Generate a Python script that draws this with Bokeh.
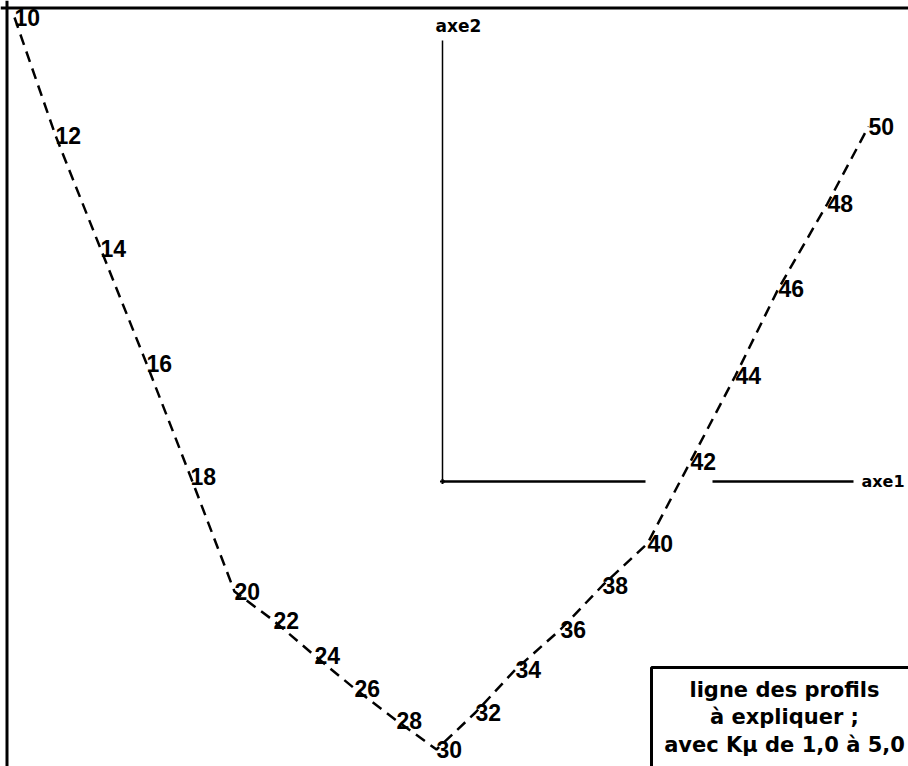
from bokeh.plotting import figure
from bokeh.models import Range1d, Span
from bokeh.core.properties import value
from bokeh.embed import file_html
from bokeh.resources import INLINE

# Kmu values (x10) labelling each profile point
kmu_labels = ["10", "12", "14", "16", "18", "20", "22", "24", "26", "28", "30",
              "32", "34", "36", "38", "40", "42", "44", "46", "48", "50"]
# coordinates on axe1 / axe2
axe1_vals = [-4.28, -3.87, -3.42, -2.96, -2.52, -2.08, -1.69, -1.28, -0.88, -0.46, -0.06,
             0.33, 0.73, 1.18, 1.60, 2.05, 2.48, 2.93, 3.36, 3.85, 4.26]
axe2_vals = [4.64, 3.46, 2.33, 1.18, 0.05, -1.10, -1.39, -1.74, -2.07, -2.39, -2.68,
             -2.31, -1.88, -1.48, -1.04, -0.62, 0.20, 1.06, 1.93, 2.78, 3.55]

legend_lines = ["ligne des profils", "à expliquer ;", "avec Kμ de 1,0 à 5,0"]

W, H = 908, 766
x0 = -4.42
y1 = 4.81
p = figure(width=W, height=H, output_backend="svg", toolbar_location=None,
           x_range=Range1d(x0, x0 + W / 100), y_range=Range1d(y1 - H / 100, y1),
           min_border=0, x_axis_location=None, y_axis_location=None)
p.grid.visible = False
p.outline_line_color = None
p.background_fill_color = "white"
p.border_fill_color = "white"

# frame borders (left and top)
p.add_layout(Span(location=x0 + 0.065, dimension="height", line_color="black", line_width=3))
p.add_layout(Span(location=y1 - 0.075, dimension="width", line_color="black", line_width=3))

# factorial axes
p.line([0, 0], [0, 4.41], line_color="black", line_width=1.5)
p.line([0, 2.03], [0, 0], line_color="black", line_width=2.5)
p.line([2.70, 4.11], [0, 0], line_color="black", line_width=2.5)
p.scatter([0], [0], marker="cross", size=5, line_color="black", line_width=2)
p.text([-0.07], [4.56], text=["axe2"], text_align="left", text_baseline="middle",
       text_font=value("DejaVu Sans"), text_font_style="bold", text_font_size="17px",
       text_color="black")
p.text([4.19], [0.0], text=["axe1"], text_align="left", text_baseline="middle",
       text_font=value("DejaVu Sans"), text_font_style="bold", text_font_size="16px",
       text_color="black")

# profile line
p.line(axe1_vals, axe2_vals, line_color="black", line_width=2.5, line_dash="11 7")
p.text(axe1_vals, axe2_vals, text=kmu_labels, text_align="left", text_baseline="middle",
       text_font=value("Liberation Sans"), text_font_style="bold", text_font_size="23px",
       text_color="black")

# legend box
p.quad(left=[2.09], right=[5.5], top=[-1.86], bottom=[-4.0], fill_color=None,
       line_color="black", line_width=3)
p.text([3.42] * 3, [-2.08, -2.35, -2.63], text=legend_lines, text_align="center",
       text_baseline="middle", text_font=value("DejaVu Sans"), text_font_style="bold",
       text_font_size="21px", text_color="black")

open("out.html", "w").write(file_html(p, INLINE))
